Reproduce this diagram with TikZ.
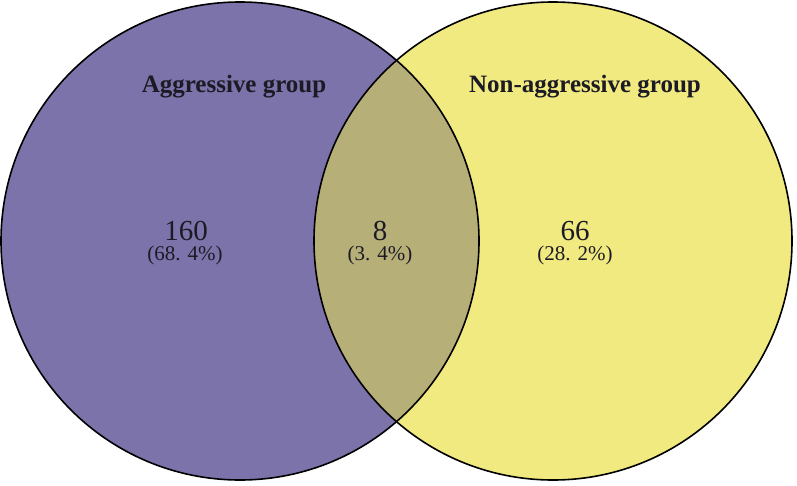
\documentclass[tikz,border=0pt]{standalone}
\usepackage{fontspec}
\setmainfont{Liberation Serif}
\definecolor{aggr}{RGB}{123,115,170}
\definecolor{nonaggr}{RGB}{240,234,128}
\definecolor{both}{RGB}{183,175,120}
\definecolor{txt}{RGB}{28,26,36}
\tikzset{
  setcircle/.style={circle, inner sep=0pt, minimum size=478pt},
  title/.style={anchor=base, font=\bfseries\fontsize{25}{28}\selectfont, text=txt, inner sep=0pt},
  count/.style={anchor=base, font=\fontsize{29}{31}\selectfont, text=txt, inner sep=0pt},
  pct/.style={anchor=base, font=\fontsize{21}{23}\selectfont, text=txt, inner sep=0pt},
  outline/.style={line width=1.6pt, draw=black}
}
\begin{document}
\begin{tikzpicture}[x=1pt,y=-1pt]
\useasboundingbox (0,0) rectangle (797,485);
\node[setcircle, fill=aggr] (A) at (240,241) {};
\node[setcircle, fill=nonaggr] (B) at (553,241) {};
\begin{scope}
  \clip (240,241) circle (239);
  \fill[both] (553,241) circle (239);
\end{scope}
\draw[outline] (240,241) circle (239);
\draw[outline] (553,241) circle (239);
\node[title] (ta) at (234,92) {Aggressive group};
\node[title] (tb) at (585,92) {Non-aggressive group};
\node[count] (ca) at (186,240) {160};
\node[pct] (pa) at (185,260) {(68. 4\%)};
\node[count] (cab) at (380,240) {8};
\node[pct] (pab) at (380,260) {(3. 4\%)};
\node[count] (cb) at (575,240) {66};
\node[pct] (pb) at (575,260) {(28. 2\%)};
\end{tikzpicture}
\end{document}
